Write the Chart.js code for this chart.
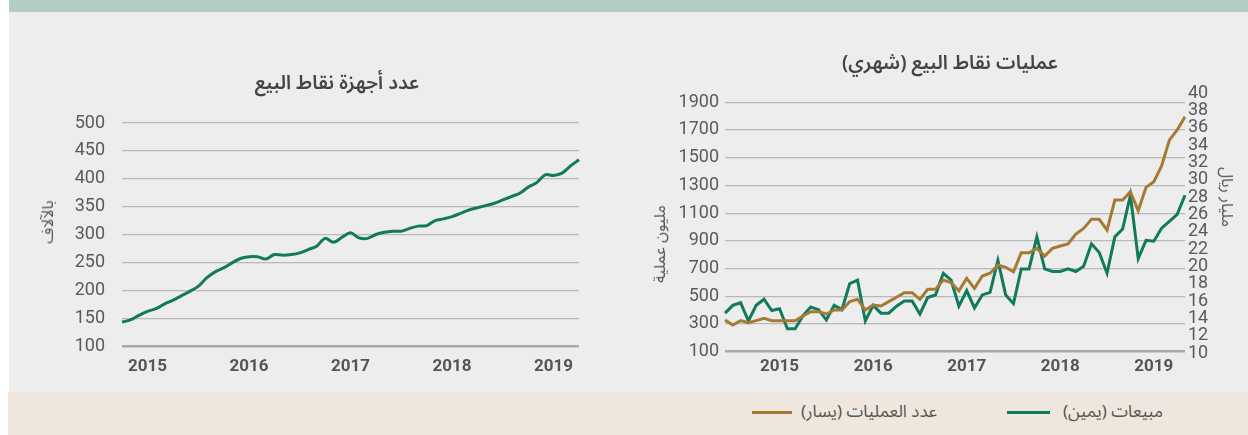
<!DOCTYPE html>
<html lang="ar">
<head>
<meta charset="utf-8">
<script src="https://cdn.jsdelivr.net/npm/chart.js@4.4.1/dist/chart.umd.min.js"></script>
<style>
  body { margin: 0; width: 1248px; height: 435px; position: relative; overflow: hidden; background: #fff; }
  .band-top { position: absolute; left: 9px; top: 0; width: 1239px; height: 12px; background: #b3cdc5; }
  .panel { position: absolute; left: 9px; top: 12px; width: 1239px; height: 380px; background: #ededed; }
  .band-bottom { position: absolute; left: 8px; top: 392px; width: 1240px; height: 43px; background: #efe7dd; }
  canvas { position: absolute; top: 0; }
  .t { position: absolute; white-space: nowrap; transform: translate(-50%, -50%);
       font-family: "Noto Sans Arabic", "Noto Sans", "DejaVu Sans", sans-serif; color: #555; }
  .title { font-size: 19.5px; font-weight: 600; color: #444; }
  .axis { font-size: 16px; }
  .leg { position: absolute; height: 3px; top: 411px; }
  .legtxt { position: absolute; top: 412px; transform: translateY(-50%); white-space: nowrap;
       font-family: "Noto Sans Arabic", "Noto Sans", "DejaVu Sans", sans-serif; font-size: 17px; color: #555; }
</style>
</head>
<body>
<div class="band-top"></div>
<div class="panel"></div>
<div class="band-bottom"></div>

<canvas id="devices" width="620" height="392" style="left:0;width:620px;height:392px"></canvas>
<canvas id="trx" width="628" height="392" style="left:620px;width:628px;height:392px"></canvas>

<div class="t title" style="left:337px;top:82px">عدد أجهزة نقاط البيع</div>
<div class="t axis" style="left:48px;top:222px;transform:translate(-50%,-50%) rotate(-90deg)">بالآلاف</div>

<div class="t title" style="left:950px;top:62px">عمليات نقاط البيع (شهري)</div>
<div class="t axis" style="left:660px;top:244px;transform:translate(-50%,-50%) rotate(-90deg)">مليون عملية</div>
<div class="t axis" style="left:1227px;top:197px;transform:translate(-50%,-50%) rotate(90deg)">مليار ريال</div>

<div class="leg" style="left:1007px;width:43px;background:#117a5a"></div>
<div class="legtxt" style="right:85px">مبيعات (يمين)</div>
<div class="leg" style="left:752px;width:40px;background:#a57a33"></div>
<div class="legtxt" style="right:311px">عدد العمليات (يسار)</div>

<script>
// months on the x axis
function monthRange(year, month, count) {
  const out = [];
  for (let i = 0; i < count; i++) {
    const m = (month - 1 + i) % 12 + 1;
    const y = year + Math.floor((month - 1 + i) / 12);
    out.push(y + '-' + String(m).padStart(2, '0'));
  }
  return out;
}
const deviceMonths = monthRange(2015, 4, 55);
const trxMonths = monthRange(2014, 12, 60);

// number of POS terminals (thousands)
const posTerminals = [143, 147, 155, 162, 167, 175, 182, 190, 198, 207,
  222, 233, 240, 249, 257, 260, 260, 256, 264, 263,
  264, 267, 273, 279, 293, 286, 295, 303, 294, 293,
  300, 304, 306, 306, 311, 315, 316, 325, 328, 332,
  338, 344, 348, 352, 356, 362, 368, 374, 385, 393,
  407, 406, 410, 423, 434];

// number of transactions (millions, left axis)
const trxCount = [329, 293, 324, 309, 324, 341, 324, 324, 324, 324,
  358, 389, 389, 372, 401, 401, 461, 478, 401, 437,
  430, 461, 493, 526, 526, 478, 550, 550, 617, 598,
  540, 630, 557, 646, 666, 726, 709, 677, 814, 814,
  846, 790, 846, 863, 877, 949, 990, 1055, 1055, 978,
  1194, 1194, 1254, 1117, 1286, 1327, 1440, 1627, 1700, 1795];

// sales value (billion SAR, right axis)
const trxSales = [14.6, 15.5, 15.8, 13.7, 15.5, 16.2, 14.9, 15.1, 12.8, 12.8,
  14.3, 15.3, 15.0, 13.8, 15.5, 15.0, 18.0, 18.4, 13.7, 15.5,
  14.6, 14.6, 15.4, 16.0, 16.0, 14.5, 16.4, 16.7, 19.2, 18.4,
  15.4, 17.2, 15.2, 16.7, 17.0, 20.7, 16.7, 15.7, 19.7, 19.7,
  23.4, 19.7, 19.4, 19.4, 19.7, 19.4, 20.0, 22.6, 21.6, 19.2,
  23.4, 24.3, 28.2, 20.9, 23.0, 22.9, 24.4, 25.2, 26.0, 28.2];

const trxLeftTicks = [100, 300, 500, 700, 900, 1100, 1300, 1500, 1700, 1900];

const GREEN = '#117a5a';
const BROWN = '#a57a33';
const GRID = '#b9b9b9';
const TICK = '#5a5a5a';

Chart.defaults.font.family = 'Roboto, "Liberation Sans", sans-serif';
Chart.defaults.color = TICK;

function yearTick(labels) {
  return function(value, index) {
    const m = labels[index];
    return m.endsWith('-07') ? m.slice(0, 4) : '';
  };
}

const gridStyle = {
  color: c => (c.tick && c.tick.value === 100 ? '#a9a9a9' : GRID),
  lineWidth: c => (c.tick && c.tick.value === 100 ? 2.6 : 1.2),
  drawTicks: false
};

new Chart(document.getElementById('devices'), {
  type: 'line',
  data: {
    labels: deviceMonths,
    datasets: [{
      data: posTerminals,
      borderColor: GREEN,
      borderWidth: 3,
      pointRadius: 0,
      tension: 0.35
    }]
  },
  options: {
    responsive: false,
    animation: false,
    layout: { padding: { left: 0, right: 41, top: 123, bottom: 10 } },
    plugins: { legend: { display: false }, tooltip: { enabled: false } },
    scales: {
      x: {
        grid: { display: false, drawTicks: false },
        border: { display: false },
        ticks: { autoSkip: false, maxRotation: 0, padding: 11,
          font: { size: 17, weight: 'bold' }, color: '#555',
          callback: yearTick(deviceMonths) },
        afterFit: s => { s.height = 36; }
      },
      y: {
        min: 100, max: 500,
        grid: gridStyle,
        border: { display: false },
        ticks: { stepSize: 50, padding: 17, font: { size: 18 } },
        afterFit: s => { s.width = 122; }
      }
    }
  }
});

new Chart(document.getElementById('trx'), {
  type: 'line',
  data: {
    labels: trxMonths,
    datasets: [{
      label: 'عدد العمليات (يسار)',
      data: trxCount,
      yAxisID: 'y',
      borderColor: BROWN,
      borderWidth: 3,
      pointRadius: 0,
      tension: 0
    }, {
      label: 'مبيعات (يمين)',
      data: trxSales,
      yAxisID: 'y1',
      borderColor: GREEN,
      borderWidth: 3,
      pointRadius: 0,
      tension: 0
    }]
  },
  options: {
    responsive: false,
    animation: false,
    layout: { padding: { left: 0, right: 0, top: 93, bottom: 9 } },
    plugins: { legend: { display: false }, tooltip: { enabled: false } },
    scales: {
      x: {
        grid: { display: false, drawTicks: false },
        border: { display: false },
        ticks: { autoSkip: false, maxRotation: 0, padding: 4,
          font: { size: 17, weight: 'bold' }, color: '#555',
          callback: yearTick(trxMonths) },
        afterFit: s => { s.height = 30; }
      },
      y: {
        position: 'left',
        min: 90.6, max: 1967,
        grid: gridStyle,
        border: { display: false },
        ticks: { padding: 6, font: { size: 18 }, callback: v => String(v) },
        afterBuildTicks: axis => { axis.ticks = trxLeftTicks.map(v => ({ value: v })); },
        afterFit: s => { s.width = 105; }
      },
      y1: {
        position: 'right',
        min: 10, max: 40,
        grid: { display: false, drawTicks: false },
        border: { display: false },
        ticks: { stepSize: 2, autoSkip: false, padding: 3, font: { size: 18 } },
        afterFit: s => { s.width = 63; }
      }
    }
  }
});
</script>
</body>
</html>
